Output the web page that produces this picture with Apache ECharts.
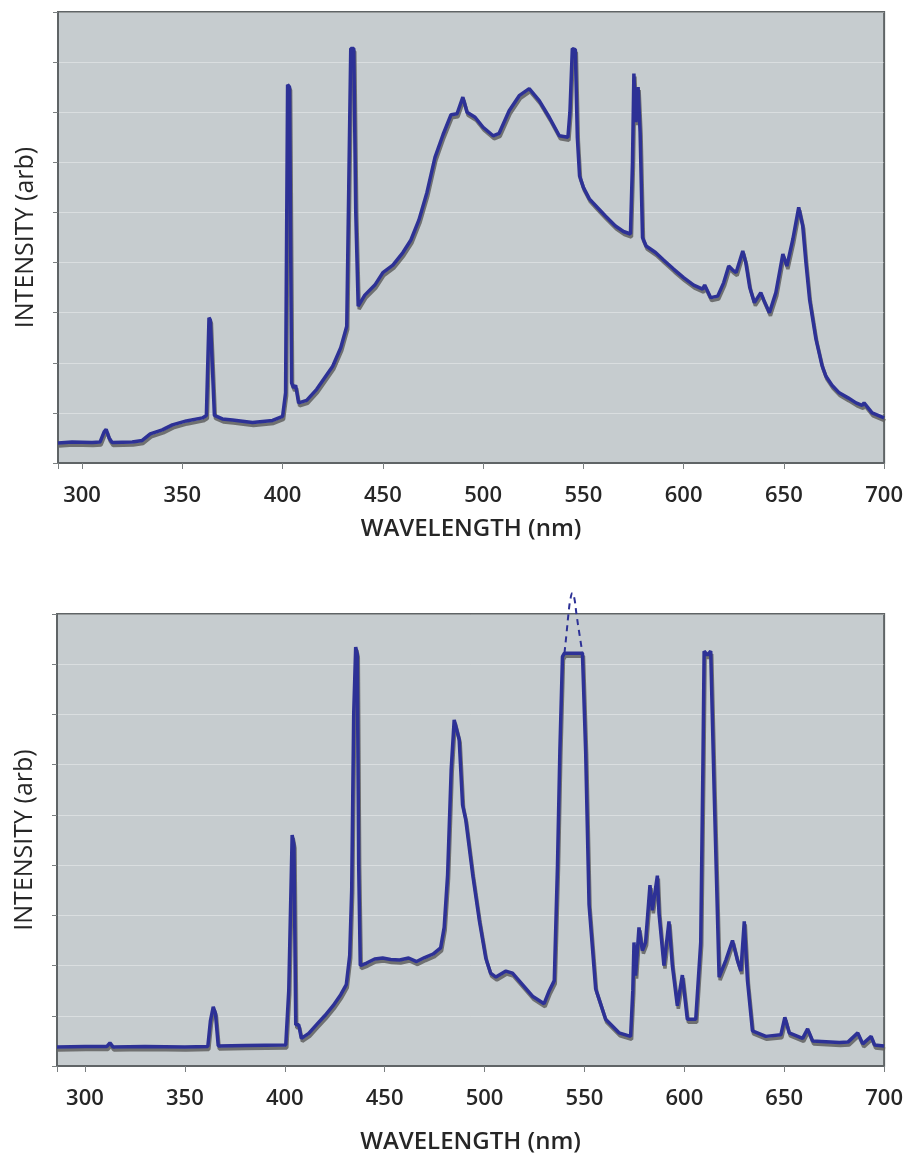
<!DOCTYPE html>
<html lang="en">
<head>
  <meta charset="utf-8" />
  <title>Emission spectra</title>
  <script type="text/javascript" src="https://fastly.jsdelivr.net/npm/echarts@6.0.0/dist/echarts.min.js"></script>
</head>
<body style="margin: 0; background: #ffffff">
  <div id="container" style="width: 906px; height: 1159px"></div>

  <script type="text/javascript">
    // wavelength (nm) / intensity (arb)
    var topWavelength = [288, 295, 305, 309, 311, 312, 313.5, 315, 325, 330, 334, 340, 345, 352, 360, 362, 363.3, 364, 366, 370, 375, 385, 395, 400, 401.5, 402.5, 403.5, 404.5, 405.5, 406.5, 408, 412, 417, 421, 425, 429, 432, 433, 434, 435.5, 436.5, 437.7, 441, 446, 450, 455, 460, 464, 468, 472, 476, 480, 484, 487, 489.9, 492, 496, 500, 505, 508, 513, 518, 523, 528, 533, 538, 542.3, 543.3, 544.5, 546, 547, 548.1, 550, 553, 557, 561, 566, 570, 573.5, 574.5, 575.2, 576.2, 577.3, 578.3, 579.5, 581.3, 586, 590, 595, 600, 605, 609.5, 610.5, 613.5, 617, 620, 622.5, 624.5, 626.2, 629.5, 631, 633, 635.3, 638.5, 640, 642.8, 646, 649.5, 651.5, 654.5, 657.4, 659.4, 661, 662.8, 666, 669, 671, 674, 677.6, 682, 686, 689, 690, 694, 697, 700];
    var topIntensity = [0.40, 0.42, 0.41, 0.42, 0.62, 0.67, 0.50, 0.41, 0.42, 0.45, 0.58, 0.66, 0.76, 0.84, 0.90, 0.95, 2.90, 2.85, 0.95, 0.88, 0.86, 0.81, 0.85, 0.93, 1.40, 7.55, 7.50, 1.60, 1.50, 1.55, 1.20, 1.25, 1.47, 1.70, 1.93, 2.30, 2.73, 5.50, 8.27, 8.27, 5.00, 3.13, 3.35, 3.55, 3.80, 3.95, 4.20, 4.45, 4.85, 5.40, 6.10, 6.55, 6.95, 6.97, 7.30, 7.00, 6.90, 6.70, 6.53, 6.58, 7.03, 7.33, 7.47, 7.23, 6.90, 6.53, 6.50, 7.00, 8.27, 8.25, 6.50, 5.73, 5.50, 5.27, 5.10, 4.93, 4.73, 4.62, 4.57, 6.00, 7.77, 6.80, 7.50, 6.60, 4.50, 4.33, 4.20, 4.05, 3.87, 3.70, 3.55, 3.47, 3.55, 3.30, 3.33, 3.60, 3.93, 3.85, 3.80, 4.23, 4.00, 3.50, 3.20, 3.40, 3.25, 3.00, 3.40, 4.17, 3.93, 4.47, 5.10, 4.73, 4.00, 3.27, 2.47, 1.95, 1.73, 1.55, 1.40, 1.30, 1.20, 1.15, 1.20, 1.00, 0.95, 0.90];

    var bottomWavelength = [286, 300, 311, 312.5, 314, 330, 350, 361.5, 362.8, 364.2, 365.3, 366.7, 380, 400.5, 402, 403.7, 404.6, 405.5, 407, 408.3, 412, 415.8, 420, 424.2, 428, 430.8, 432.5, 433.5, 434.5, 435.5, 436.3, 437, 437.8, 441, 445, 449, 453, 457.5, 462, 466, 470, 474.2, 478, 479.8, 481.5, 483.3, 484.8, 485.6, 487.3, 489, 490.6, 494, 497.3, 500.6, 503, 505.7, 510.7, 514, 519, 524, 529.8, 532.4, 534.9, 536.5, 537.7, 539, 540, 549, 550.6, 552.3, 555.6, 560.6, 567.3, 573.1, 574.2, 574.8, 575.6, 577.3, 579, 580.6, 582.8, 584, 586.5, 587.3, 589.8, 592.3, 594, 596.5, 599, 601.5, 605.7, 608.2, 609.3, 609.9, 611.6, 613.2, 614.9, 617.4, 620.8, 624.1, 626.6, 628.3, 630, 631.6, 634.1, 640.8, 648.3, 650.3, 652.5, 659.2, 661.7, 664.2, 677.6, 682, 686.8, 689.3, 693.5, 695.2, 700];
    var bottomIntensity = [0.38, 0.39, 0.39, 0.46, 0.38, 0.39, 0.38, 0.39, 0.90, 1.18, 1.05, 0.40, 0.41, 0.42, 1.50, 4.60, 4.40, 0.82, 0.82, 0.55, 0.65, 0.82, 1.00, 1.20, 1.42, 1.62, 2.20, 3.50, 7.00, 8.34, 8.20, 4.00, 2.00, 2.05, 2.13, 2.15, 2.12, 2.11, 2.15, 2.08, 2.16, 2.23, 2.35, 2.76, 3.80, 5.90, 6.89, 6.92, 6.50, 5.20, 4.90, 3.83, 2.92, 2.15, 1.85, 1.77, 1.89, 1.85, 1.62, 1.39, 1.24, 1.50, 1.70, 3.98, 6.27, 8.15, 8.22, 8.22, 6.27, 3.22, 1.54, 0.93, 0.66, 0.59, 1.50, 2.46, 1.80, 2.76, 2.30, 2.46, 3.60, 3.10, 3.79, 3.05, 2.00, 2.88, 2.00, 1.20, 1.81, 0.93, 0.93, 2.46, 6.00, 8.26, 8.18, 8.26, 5.51, 1.77, 2.11, 2.50, 2.10, 1.89, 2.88, 1.70, 0.70, 0.59, 0.62, 0.97, 0.66, 0.55, 0.74, 0.50, 0.47, 0.48, 0.66, 0.44, 0.59, 0.42, 0.40];

    // saturated 546 nm line, drawn dashed above the clipped top
    var clippedWavelength = [540, 541, 542, 543, 544, 545, 546, 547.5, 549];
    var clippedIntensity = [8.22, 8.6, 9.0, 9.3, 9.42, 9.3, 9.0, 8.6, 8.22];

    var xTicks = [300, 350, 400, 450, 500, 550, 600, 650, 700];

    function pairs(xs, ys) {
      return xs.map(function (x, i) { return [x, ys[i]]; });
    }

    var lineColor = '#2d3196';
    var textColor = '#262626';
    var fontFamily = '"Open Sans", "DejaVu Sans", sans-serif';

    function xAxisFor(gridIndex, min, gap) {
      return {
        type: 'value',
        gridIndex: gridIndex,
        min: min,
        max: 700,
        name: 'WAVELENGTH (nm)',
        nameLocation: 'middle',
        nameGap: gap,
        nameTextStyle: { color: textColor, fontSize: 24, fontWeight: 600, fontFamily: fontFamily },
        axisLine: { lineStyle: { color: '#5f6466', width: 2 } },
        axisTick: { customValues: [min].concat(xTicks), length: 6, lineStyle: { color: '#7a7f80' } },
        axisLabel: { customValues: xTicks, margin: 22, color: textColor, fontSize: 22, fontWeight: 600, fontFamily: fontFamily },
        splitLine: { show: false }
      };
    }

    function yAxisFor(gridIndex) {
      return {
        type: 'value',
        gridIndex: gridIndex,
        min: 0,
        max: 9,
        interval: 1,
        name: 'INTENSITY (arb)',
        nameLocation: 'middle',
        nameGap: 20,
        nameTextStyle: { color: textColor, fontSize: 25, fontWeight: 500, fontFamily: fontFamily },
        axisLine: { show: true, lineStyle: { color: '#5f6466', width: 2 } },
        axisTick: { show: true, length: 5, lineStyle: { color: '#7a7f80' } },
        axisLabel: { show: false },
        splitLine: { show: true, lineStyle: { color: 'rgba(255,255,255,0.35)', width: 1 } }
      };
    }

    function spectrum(idx, data) {
      return {
        type: 'line',
        xAxisIndex: idx,
        yAxisIndex: idx,
        data: data,
        showSymbol: false,
        animation: false,
        lineStyle: {
          color: lineColor,
          width: 3.5,
          shadowColor: 'rgba(95,95,95,0.85)',
          shadowOffsetX: 1,
          shadowOffsetY: 3,
          shadowBlur: 0
        }
      };
    }

    var chart = echarts.init(document.getElementById('container'), null, { renderer: 'canvas' });

    var option = {
      backgroundColor: '#ffffff',
      animation: false,
      grid: [
        { left: 58, right: 21, top: 12, height: 451, show: true, backgroundColor: '#c6cccf', borderColor: '#5f6466', borderWidth: 2 },
        { left: 57, right: 20, top: 614, height: 452, show: true, backgroundColor: '#c6cccf', borderColor: '#5f6466', borderWidth: 2 }
      ],
      xAxis: [xAxisFor(0, 288, 54), xAxisFor(1, 286, 64)],
      yAxis: [yAxisFor(0), yAxisFor(1)],
      series: [
        spectrum(0, pairs(topWavelength, topIntensity)),
        spectrum(1, pairs(bottomWavelength, bottomIntensity)),
        {
          type: 'line',
          xAxisIndex: 1,
          yAxisIndex: 1,
          data: pairs(clippedWavelength, clippedIntensity),
          smooth: true,
          clip: false,
          showSymbol: false,
          animation: false,
          z: 1,
          lineStyle: { color: lineColor, width: 2, type: [6, 5] }
        }
      ]
    };

    chart.setOption(option);
    window.addEventListener('resize', chart.resize);
  </script>
</body>
</html>
